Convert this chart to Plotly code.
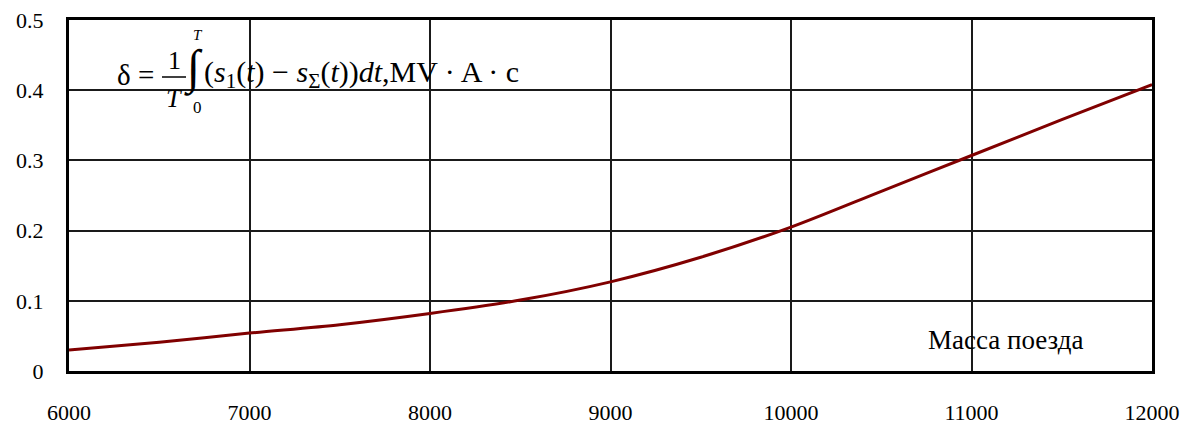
import plotly.graph_objects as go

# ---- data ----
mass = [6000, 6500, 7000, 7500, 8000, 8500, 9000, 9500, 10000, 10500, 11000, 11500, 12000]
delta = [0.030, 0.041, 0.054, 0.066, 0.082, 0.101, 0.127, 0.162, 0.205, 0.256, 0.307, 0.358, 0.408]
x_ticks = [6000, 7000, 8000, 9000, 10000, 11000, 12000]
y_ticks = [0, 0.1, 0.2, 0.3, 0.4, 0.5]
y_tick_text = ["0", "0.1", "0.2", "0.3", "0.4", "0.5"]
x_label = "Масса поезда"

W, H = 1196, 427
L, R, T, B = 69, 1152, 20, 371
FONT = "Liberation Serif, Times New Roman, serif"


def px(x):
    return (x - L) / (R - L)


def py(y):
    return (B - y) / (B - T)


fig = go.Figure()
fig.add_trace(go.Scatter(x=mass, y=delta, mode="lines", line=dict(color="#800000", width=3, shape="spline", smoothing=0.8),
                         showlegend=False, hoverinfo="skip"))

shapes = [
    # white background behind the formula
    dict(type="rect", xref="paper", yref="paper", x0=px(108), x1=px(518), y0=py(122), y1=py(30),
         fillcolor="white", line=dict(width=0), layer="between"),
    # white background behind axis caption
    dict(type="rect", xref="paper", yref="paper", x0=px(905), x1=px(1110), y0=py(357), y1=py(315),
         fillcolor="white", line=dict(width=0), layer="between"),
    # fraction bar
    dict(type="line", xref="paper", yref="paper", x0=px(162), x1=px(186), y0=py(77), y1=py(77),
         line=dict(color="black", width=1.5), layer="above"),
]

ann = []


def add_text(text, x, y, size, xanchor="center"):
    ann.append(dict(text=text, xref="paper", yref="paper", x=px(x), y=py(y), xanchor=xanchor,
                    yanchor="middle", showarrow=False, font=dict(family=FONT, size=size, color="black")))


add_text("δ =", 115, 75, 29, "left")
add_text("1", 174, 60, 26)
add_text("<i>T</i>", 174, 98, 26)
add_text("∫", 193, 68, 48)
add_text("<i>T</i>", 198, 35, 15)
add_text("0", 197, 108, 17)
add_text("(<i>s</i><sub>1</sub>(<i>t</i>) − <i>s</i><sub>Σ</sub>(<i>t</i>))<i>dt</i>,MV · A · c", 202, 74, 30, "left")
add_text(x_label, 1006, 340, 27)

tickfont = dict(family=FONT, size=22, color="black")

fig.update_layout(
    width=W, height=H,
    margin=dict(l=L, r=W - R, t=T, b=H - B),
    paper_bgcolor="white", plot_bgcolor="white",
    shapes=shapes, annotations=ann,
    font=dict(family=FONT, size=22, color="black"),
    xaxis=dict(range=[6000, 12000], tickvals=x_ticks, ticktext=[str(v) for v in x_ticks], tickfont=tickfont,
               showgrid=True, gridcolor="#1a1a1a", gridwidth=2, showline=True, linecolor="black",
               linewidth=3, mirror=True, ticks="", ticklabelstandoff=20, zeroline=False, automargin=False),
    yaxis=dict(range=[0, 0.5], tickvals=y_ticks, ticktext=y_tick_text, tickfont=tickfont,
               showgrid=True, gridcolor="#1a1a1a", gridwidth=2, showline=True, linecolor="black",
               linewidth=3, mirror=True, ticks="", ticklabelstandoff=18, zeroline=False, automargin=False),
)

fig.write_html("out.html", config={"displayModeBar": False, "staticPlot": True},
               post_script="document.body.style.margin='0';document.body.style.overflow='hidden';")
